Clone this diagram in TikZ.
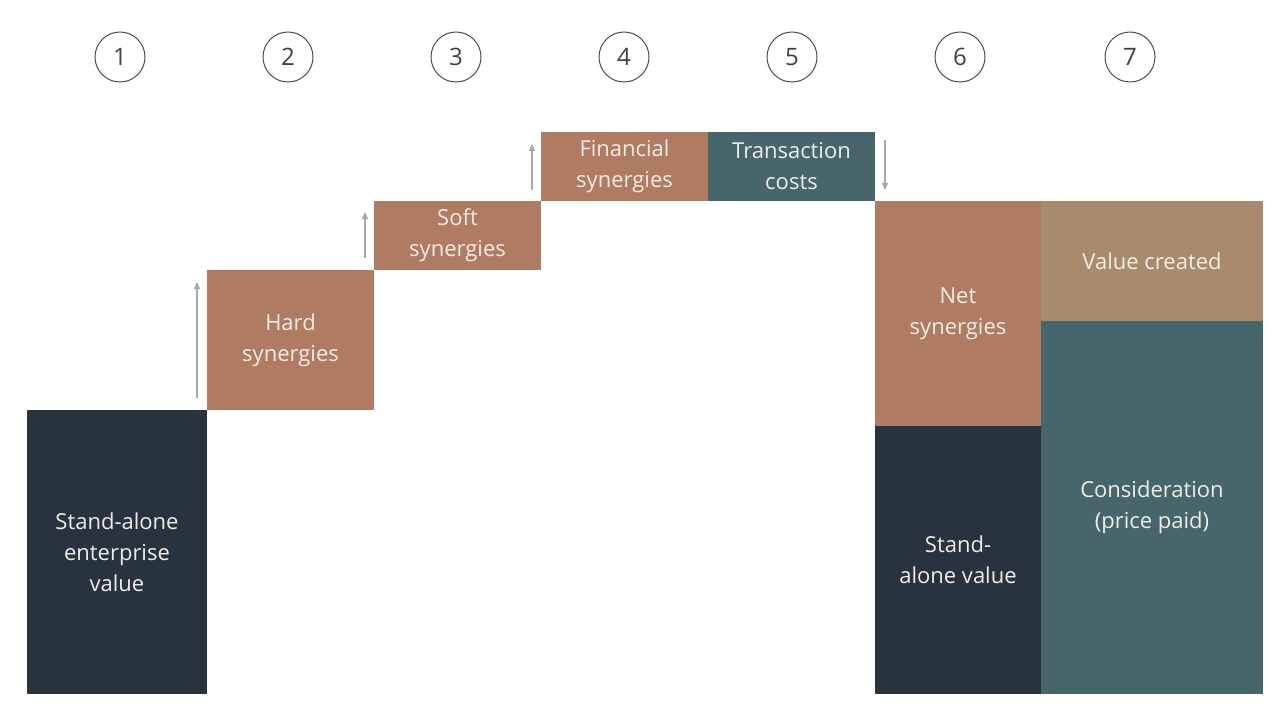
\documentclass[tikz,border=0pt]{standalone}
\usepackage{fontspec}
\setmainfont{Open Sans}
\usetikzlibrary{arrows.meta}
\definecolor{navy}{HTML}{29323F}
\definecolor{copper}{HTML}{B07B63}
\definecolor{teal}{HTML}{46666B}
\definecolor{tan}{HTML}{A88B6C}
\definecolor{txt}{HTML}{F2ECE6}
\definecolor{arr}{HTML}{A8A8A8}
\begin{document}
\begin{tikzpicture}[x=1pt,y=-1pt,
  blk/.style={inner sep=0pt,text=txt,align=center,font=\fontsize{22}{31}\selectfont},
  num/.style={circle,draw=black!70,line width=1pt,minimum size=50pt,inner sep=0pt,font=\fontsize{24}{28}\selectfont,text=black!75},
  up/.style={draw=arr,line width=1.5pt,-{Triangle[width=6pt,length=7pt]}}]
\useasboundingbox (0,0) rectangle (1275,706);
\def\bx#1#2#3#4#5#6#7{\fill[#2] (#3,#4) rectangle (#5,#6); \node[blk] (#1) at ({(#3+#5)/2},{(#4+#6)/2}) {#7};}
\bx{sa}{navy}{27}{410}{207}{694}{Stand-alone\\enterprise\\value}
\bx{hs}{copper}{207}{270}{374}{410}{Hard\\synergies}
\bx{ss}{copper}{374}{201}{541}{270}{Soft\\synergies}
\bx{fs}{copper}{541}{132}{708}{201}{Financial\\synergies}
\bx{tc}{teal}{708}{132}{875}{201}{Transaction\\costs}
\bx{ns}{copper}{875}{201}{1041}{426}{Net\\synergies}
\bx{sv}{navy}{875}{426}{1041}{694}{Stand-\\alone value}
\bx{vc}{tan}{1041}{201}{1263}{321}{Value created}
\bx{cp}{teal}{1041}{321}{1263}{694}{Consideration\\(price paid)}
\foreach \x/\n in {120/1,288/2,456/3,624/4,792/5,960/6,1130/7}
  \node[num] (c\n) at (\x,57) {\n};
\coordinate (a1) at (197,398); \coordinate (b1) at (197,282);
\coordinate (a2) at (365,258); \coordinate (b2) at (365,212);
\coordinate (a3) at (532,190); \coordinate (b3) at (532,144);
\coordinate (a4) at (885,140); \coordinate (b4) at (885,190);
\foreach \i in {1,2,3,4} \draw[up] (a\i) -- (b\i);
\end{tikzpicture}
\end{document}
